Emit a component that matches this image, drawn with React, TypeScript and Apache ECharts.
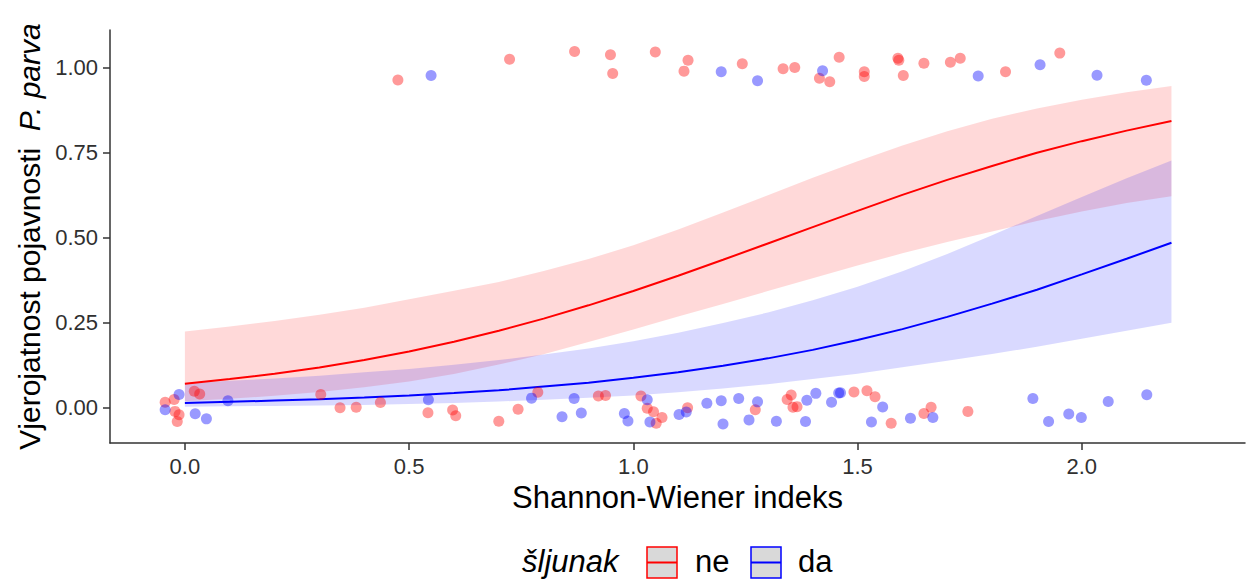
import React, { useEffect, useRef } from "react";
import * as echarts from "echarts";

const curveX = [0, 0.1, 0.2, 0.3, 0.4, 0.5, 0.6, 0.7, 0.8, 0.9, 1.0, 1.1, 1.2, 1.3, 1.4, 1.5, 1.6, 1.7, 1.8, 1.9, 2.0, 2.1, 2.2];
const neFit = [0.070, 0.084, 0.100, 0.118, 0.140, 0.165, 0.194, 0.226, 0.262, 0.301, 0.343, 0.388, 0.435, 0.483, 0.531, 0.579, 0.626, 0.670, 0.711, 0.750, 0.784, 0.815, 0.843];
const neLow = [0.019, 0.026, 0.035, 0.046, 0.060, 0.077, 0.099, 0.127, 0.157, 0.193, 0.230, 0.268, 0.305, 0.343, 0.381, 0.418, 0.454, 0.487, 0.518, 0.549, 0.577, 0.602, 0.622];
const neHigh = [0.224, 0.239, 0.255, 0.273, 0.294, 0.319, 0.344, 0.370, 0.402, 0.437, 0.478, 0.524, 0.574, 0.625, 0.676, 0.725, 0.771, 0.813, 0.850, 0.880, 0.906, 0.928, 0.946];
const daFit = [0.014, 0.017, 0.021, 0.025, 0.030, 0.036, 0.043, 0.051, 0.062, 0.073, 0.088, 0.104, 0.123, 0.145, 0.170, 0.199, 0.231, 0.267, 0.306, 0.347, 0.392, 0.438, 0.485];
const daLow = [0.003, 0.004, 0.005, 0.006, 0.008, 0.011, 0.014, 0.018, 0.023, 0.029, 0.036, 0.045, 0.056, 0.069, 0.084, 0.100, 0.119, 0.138, 0.158, 0.179, 0.203, 0.226, 0.250];
const daHigh = [0.072, 0.079, 0.086, 0.094, 0.104, 0.114, 0.126, 0.140, 0.156, 0.174, 0.195, 0.220, 0.249, 0.280, 0.316, 0.356, 0.401, 0.452, 0.507, 0.564, 0.620, 0.675, 0.727];

const nePoints = [
  [0.475, 0.964], [0.724, 1.025], [0.869, 1.048], [0.949, 1.038], [0.954, 0.983], [1.049, 1.046],
  [1.122, 1.022], [1.113, 0.990], [1.243, 1.012], [1.334, 0.997], [1.360, 1.001], [1.415, 0.969],
  [1.438, 0.959], [1.459, 1.031], [1.515, 0.988], [1.515, 0.974], [1.590, 1.028], [1.592, 1.022],
  [1.602, 0.977], [1.648, 1.013], [1.707, 1.016], [1.729, 1.028], [1.830, 0.988], [1.951, 1.043],
  [-0.044, 0.016], [-0.024, 0.024], [-0.022, -0.011], [-0.013, -0.021], [-0.017, -0.041], [0.021, 0.048],
  [0.033, 0.040], [0.303, 0.039], [0.346, 0.0], [0.382, 0.001], [0.436, 0.015], [0.542, -0.015],
  [0.597, -0.007], [0.604, -0.024], [0.700, -0.040], [0.743, -0.005], [0.787, 0.045], [0.922, 0.034],
  [0.938, 0.036], [1.017, 0.034], [1.031, -0.002], [1.045, -0.012], [1.051, -0.046], [1.064, -0.029],
  [1.121, 0.0], [1.272, -0.006], [1.343, 0.024], [1.352, 0.037], [1.356, 0.001], [1.365, 0.003],
  [1.492, 0.046], [1.521, 0.050], [1.539, 0.032], [1.575, -0.046], [1.648, -0.017], [1.664, 0.001],
  [1.746, -0.011],
];
const daPoints = [
  [0.549, 0.977], [1.196, 0.988], [1.277, 0.962], [1.422, 0.991], [1.769, 0.976], [1.907, 1.009],
  [2.034, 0.978], [2.144, 0.963],
  [-0.013, 0.039], [-0.044, -0.006], [0.023, -0.018], [0.048, -0.033], [0.096, 0.020], [0.543, 0.023],
  [0.773, 0.028], [0.841, -0.027], [0.868, 0.027], [0.884, -0.016], [0.980, -0.017], [0.988, -0.039],
  [1.031, 0.023], [1.037, -0.042], [1.102, -0.020], [1.118, -0.013], [1.164, 0.013], [1.200, -0.048],
  [1.196, 0.020], [1.235, 0.027], [1.258, -0.036], [1.277, 0.017], [1.319, -0.040], [1.387, 0.022],
  [1.407, 0.042], [1.384, -0.041], [1.442, 0.016], [1.462, 0.044], [1.458, 0.043], [1.556, 0.002],
  [1.531, -0.042], [1.618, -0.031], [1.668, -0.029], [1.891, 0.027], [1.926, -0.041], [1.971, -0.019],
  [1.999, -0.029], [2.059, 0.018], [2.145, 0.038],
];

const xTicks = [0, 0.5, 1.0, 1.5, 2.0];
const yTicks = [0, 0.25, 0.5, 0.75, 1.0];
const groupNames = ["ne", "da"];
const legendTitle = "šljunak";

const FONT = "'Liberation Sans', Arial, sans-serif";

function band(lo: number[], hi: number[], fill: string) {
  return {
    type: "custom",
    silent: true,
    z: 1,
    data: [[0, 0]],
    renderItem: (_p: any, api: any) => {
      const top = curveX.map((x, i) => api.coord([x, hi[i]]));
      const bot = curveX.map((x, i) => api.coord([x, lo[i]])).reverse();
      return { type: "polygon", shape: { points: top.concat(bot) }, style: { fill } };
    },
  };
}

export default function App() {
  const ref = useRef<HTMLDivElement>(null);
  useEffect(() => {
    document.body.style.margin = "0";
    const chart = echarts.init(ref.current!, undefined, { renderer: "svg" });
    const axisColor = "#333333";
    const option: any = {
      animation: false,
      backgroundColor: "#ffffff",
      grid: { left: 110, right: 2, top: 30, bottom: 137 },
      xAxis: {
        type: "value",
        min: -0.167,
        max: 2.364,
        name: "Shannon-Wiener indeks",
        nameLocation: "middle",
        nameGap: 38,
        nameTextStyle: { fontSize: 31, color: "#000", fontFamily: FONT },
        axisLine: { show: true, onZero: false, lineStyle: { color: axisColor, width: 1.5 } },
        axisTick: { show: true, length: 7, lineStyle: { color: axisColor, width: 1.5 }, customValues: xTicks },
        axisLabel: { fontSize: 22, color: "#303030", fontFamily: FONT, margin: 12, customValues: xTicks, formatter: (v: number) => v.toFixed(1) },
        splitLine: { show: false },
      },
      yAxis: {
        type: "value",
        min: -0.104,
        max: 1.111,
        name: "{n|Vjerojatnost pojavnosti}  {i|P. parva}",
        nameLocation: "middle",
        nameGap: 66,
        nameTextStyle: {
          fontSize: 30, color: "#000", fontFamily: FONT,
          rich: {
            n: { fontSize: 30, color: "#000", fontFamily: FONT },
            i: { fontSize: 30, color: "#000", fontFamily: FONT, fontStyle: "italic" },
          },
        },
        axisLine: { show: true, onZero: false, lineStyle: { color: axisColor, width: 1.5 } },
        axisTick: { show: true, length: 7, lineStyle: { color: axisColor, width: 1.5 }, customValues: yTicks },
        axisLabel: { fontSize: 22, color: "#303030", fontFamily: FONT, margin: 12, customValues: yTicks, formatter: (v: number) => v.toFixed(2) },
        splitLine: { show: false },
      },
      series: [
        band(neLow, neHigh, "rgba(255,0,0,0.15)"),
        band(daLow, daHigh, "rgba(0,0,255,0.15)"),
        {
          name: groupNames[0], type: "line", z: 3, symbol: "none", silent: true,
          data: curveX.map((x, i) => [x, neFit[i]]),
          lineStyle: { color: "#ff0000", width: 2 },
        },
        {
          name: groupNames[1], type: "line", z: 3, symbol: "none", silent: true,
          data: curveX.map((x, i) => [x, daFit[i]]),
          lineStyle: { color: "#0000ff", width: 2 },
        },
        {
          name: groupNames[0] + "-pts", type: "scatter", z: 4, symbolSize: 11, silent: true,
          data: nePoints,
          itemStyle: { color: "rgba(255,0,0,0.5)" },
        },
        {
          name: groupNames[1] + "-pts", type: "scatter", z: 4, symbolSize: 11, silent: true,
          data: daPoints,
          itemStyle: { color: "rgba(0,0,255,0.5)" },
        },
      ],
      graphic: [
        { type: "text", left: 522, top: 546, style: { text: legendTitle, fontSize: 31, fontStyle: "italic", fill: "#000", fontFamily: FONT } },
        { type: "rect", shape: { x: 647, y: 547, width: 30, height: 31 }, style: { fill: "#d9d9d9", stroke: "#ff0000", lineWidth: 1.5 } },
        { type: "line", shape: { x1: 647, y1: 562.5, x2: 677, y2: 562.5 }, style: { stroke: "#ff0000", lineWidth: 2 } },
        { type: "text", left: 695, top: 546, style: { text: groupNames[0], fontSize: 31, fill: "#000", fontFamily: FONT } },
        { type: "rect", shape: { x: 751, y: 547, width: 30, height: 31 }, style: { fill: "#d9d9d9", stroke: "#0000ff", lineWidth: 1.5 } },
        { type: "line", shape: { x1: 751, y1: 562.5, x2: 781, y2: 562.5 }, style: { stroke: "#0000ff", lineWidth: 2 } },
        { type: "text", left: 798, top: 546, style: { text: groupNames[1], fontSize: 31, fill: "#000", fontFamily: FONT } },
      ],
    };
    chart.setOption(option);
    return () => chart.dispose();
  }, []);
  return <div ref={ref} style={{ width: 1247, height: 580 }} />;
}
